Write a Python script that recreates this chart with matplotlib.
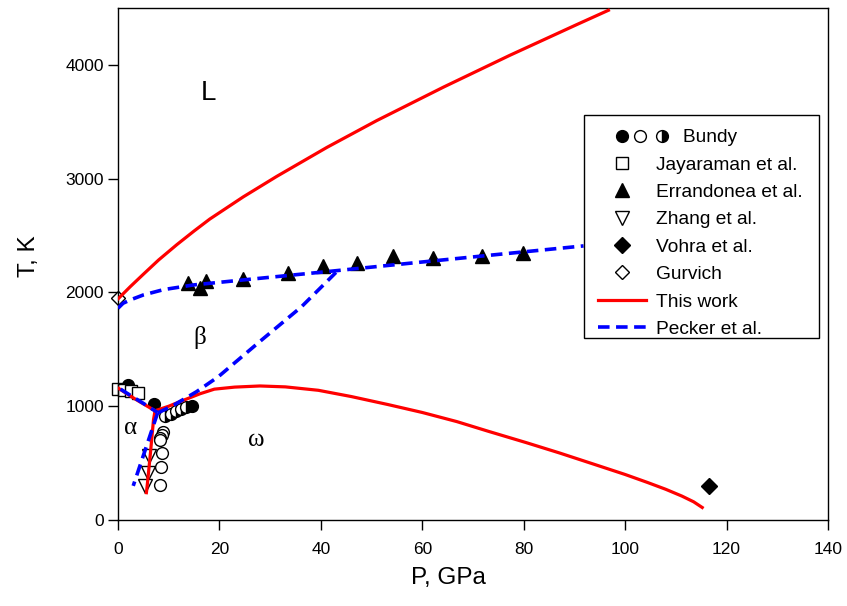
import matplotlib
matplotlib.use("Agg")
import matplotlib.pyplot as plt
from matplotlib.lines import Line2D
from matplotlib.patches import Rectangle
from matplotlib.legend_handler import HandlerBase

plt.rcParams['font.family'] = ['Liberation Sans', 'DejaVu Sans']

# ---- Phase boundaries, this work ----
melt_p = [0, 2.4, 5.0, 8.0, 11.6, 15.0, 18.1, 24.7, 31.3, 41.2, 51.0, 64.2, 77.3, 90.5, 96.7]
melt_t = [1943, 2050, 2160, 2285, 2420, 2540, 2645, 2840, 3020, 3275, 3510, 3805, 4085, 4355, 4480]

ab_p = [0, 3.5, 7.3]
ab_t = [1160, 1060, 960]

bw_p = [7.3, 10.0, 12.2, 16.2, 19.0, 23.0, 28.0, 33.0, 39.5, 46.0, 53.2, 60.0, 66.8,
        73.0, 80.5, 87.0, 94.2, 100.0, 104.4, 108.0, 111.2, 113.5, 115.2]
bw_t = [960, 1000, 1040, 1110, 1150, 1168, 1178, 1170, 1140, 1085, 1015, 945, 865,
        780, 680, 590, 485, 400, 330, 270, 210, 160, 110]

aw_p = [7.3, 7.0, 6.4, 5.8, 5.6]
aw_t = [960, 880, 590, 320, 240]

# ---- Pecker et al. ----
pk_melt_p = [0, 1.0, 2.4, 5.0, 9.0, 14.9, 24.7, 41.2, 57.6, 74.0, 91.8]
pk_melt_t = [1861, 1905, 1934, 1978, 2025, 2066, 2110, 2183, 2257, 2330, 2409]

pk_bw_p = [7.8, 11.0, 15.5, 19.8, 28.0, 36.2, 43.3]
pk_bw_t = [940, 1010, 1128, 1260, 1570, 1875, 2190]

pk_ab_p = [0.5, 3.0, 5.0, 7.8]
pk_ab_t = [1150, 1080, 1025, 945]

pk_aw_p = [7.8, 3.0]
pk_aw_t = [940, 300]

# ---- Experimental data ----
bundy_fill_p = [2.0, 7.0, 14.6]
bundy_fill_t = [1185, 1020, 1002]
bundy_open_p = [8.9, 8.6, 8.3, 8.2, 8.6, 8.4, 8.3]
bundy_open_t = [776, 747, 718, 703, 592, 463, 305]
bundy_half_p = [9.3, 10.4, 11.4, 12.4, 13.5]
bundy_half_t = [910, 935, 955, 972, 990]

jay_p = [0.0, 1.1, 2.5, 4.0]
jay_t = [1155, 1145, 1135, 1120]

err_p = [13.9, 16.2, 17.4, 24.6, 33.6, 40.5, 47.2, 54.3, 62.1, 71.7, 79.9]
err_t = [2081, 2037, 2101, 2116, 2174, 2233, 2256, 2321, 2301, 2321, 2344]

zhang_p = [6.2, 5.9, 5.4]
zhang_t = [560, 410, 300]

vohra_p = [116.5]
vohra_t = [295]

gurvich_p = [0.0]
gurvich_t = [1950]

fig = plt.figure(figsize=(8.47, 6.06), dpi=100)
ax = fig.add_axes([118 / 847, 86 / 606, 710 / 847, 512 / 606])

red = '#ff0000'
blue = '#0000ff'
mk = dict(linestyle='none', markeredgecolor='black', markeredgewidth=1.0, zorder=2,
          clip_on=False)

h_bf, = ax.plot(bundy_fill_p, bundy_fill_t, marker='o', ms=8.5, markerfacecolor='black', **mk)
ax.plot(bundy_open_p, bundy_open_t, marker='o', ms=8.5, markerfacecolor='white', **mk)
ax.plot(bundy_half_p, bundy_half_t, marker='o', ms=8.5, fillstyle='right',
        markerfacecolor='black', markerfacecoloralt='white', **mk)
h_jay, = ax.plot(jay_p, jay_t, marker='s', ms=8, markerfacecolor='white', **mk)
h_err, = ax.plot(err_p, err_t, marker='^', ms=10, markerfacecolor='black', **mk)
h_zh, = ax.plot(zhang_p, zhang_t, marker='v', ms=9.5, markerfacecolor='white', **mk)
h_vo, = ax.plot(vohra_p, vohra_t, marker='D', ms=8, markerfacecolor='black', **mk)
h_gu, = ax.plot(gurvich_p, gurvich_t, marker='D', ms=7.5, markerfacecolor='white', **mk)

lw_r = 2.3
lw_b = 2.6
dash = (3.2, 1.8)
h_this, = ax.plot(melt_p, melt_t, color=red, lw=lw_r, zorder=3)
ax.plot(ab_p, ab_t, color=red, lw=lw_r, zorder=3)
ax.plot(bw_p, bw_t, color=red, lw=lw_r, zorder=3)
ax.plot(aw_p, aw_t, color=red, lw=lw_r, zorder=3)

h_pk, = ax.plot(pk_melt_p, pk_melt_t, color=blue, lw=lw_b, dashes=dash, zorder=3)
ax.plot(pk_bw_p, pk_bw_t, color=blue, lw=lw_b, dashes=dash, zorder=3)
ax.plot(pk_ab_p, pk_ab_t, color=blue, lw=lw_b, dashes=dash, zorder=3)
ax.plot(pk_aw_p, pk_aw_t, color=blue, lw=lw_b, dashes=dash, zorder=3)

# Phase labels
ax.text(17.8, 3754, 'L', fontsize=20, ha='center', va='center')
ax.text(16.2, 1600, 'β', fontsize=18, ha='center', va='center', family='Liberation Serif')
ax.text(2.4, 809, 'α', fontsize=18, ha='center', va='center', family='Liberation Serif')
ax.text(27.2, 703, 'ω', fontsize=18, ha='center', va='center', family='Liberation Serif')

ax.set_xlim(0, 140)
ax.set_ylim(0, 4500)
ax.set_xticks(range(0, 141, 20))
ax.set_yticks(range(0, 4001, 1000))
ax.tick_params(direction='out', length=7, width=1, labelsize=12.5, top=False, right=False)
ax.tick_params(axis='x', pad=9)
ax.tick_params(axis='y', pad=3)
for s in ax.spines.values():
    s.set_linewidth(1.0)
ax.set_xlabel('P, GPa', fontsize=17.5)
ax.set_ylabel('T, K', fontsize=17.5)
ax.xaxis.set_label_coords((448 - 118) / 710, (520 - 578) / 512)
ax.yaxis.set_label_coords((29 - 118) / 710, (520 - 256) / 512)
ax.xaxis.label.set_va('center')
ax.yaxis.label.set_va('center')


class BundyHandler(HandlerBase):
    """Three circles (filled, open, half-filled) side by side."""
    def create_artists(self, legend, orig_handle, xdescent, ydescent, width, height,
                       fontsize, trans):
        cx = -xdescent + width / 2.0
        cy = -ydescent + height / 2.0
        styles = [(0.0, dict(markerfacecolor='black')),
                  (13.0, dict(markerfacecolor='white')),
                  (29.0, dict(markerfacecolor='black', markerfacecoloralt='white',
                              fillstyle='right'))]
        out = []
        for dx, kw in styles:
            ln = Line2D([cx + dx], [cy], linestyle='none', marker='o', markersize=8.5,
                        markeredgecolor='black', markeredgewidth=1.0, **kw)
            ln.set_transform(trans)
            out.append(ln)
        return out


# Legend box drawn separately so its padding can be set freely
box = Rectangle((0.6563, 0.3555), 0.9873 - 0.6563, 0.791 - 0.3555,
                transform=ax.transAxes, facecolor='white', edgecolor='black',
                linewidth=1.0, zorder=4)
ax.add_patch(box)

handles = [h_bf, h_jay, h_err, h_zh, h_vo, h_gu, h_this, h_pk]
labels = ['     Bundy', 'Jayaraman et al.', 'Errandonea et al.', 'Zhang et al.',
          'Vohra et al.', 'Gurvich', 'This work', 'Pecker et al.']
leg = ax.legend(handles, labels, handler_map={h_bf: BundyHandler()},
                loc='upper left', bbox_to_anchor=(0.6563, 0.791),
                borderaxespad=0, fontsize=13.8, numpoints=1, handlelength=2.5,
                handletextpad=0.53, borderpad=0.72, labelspacing=0.52,
                frameon=False)
leg.set_zorder(5)

fig.savefig('out.png', dpi=100)
